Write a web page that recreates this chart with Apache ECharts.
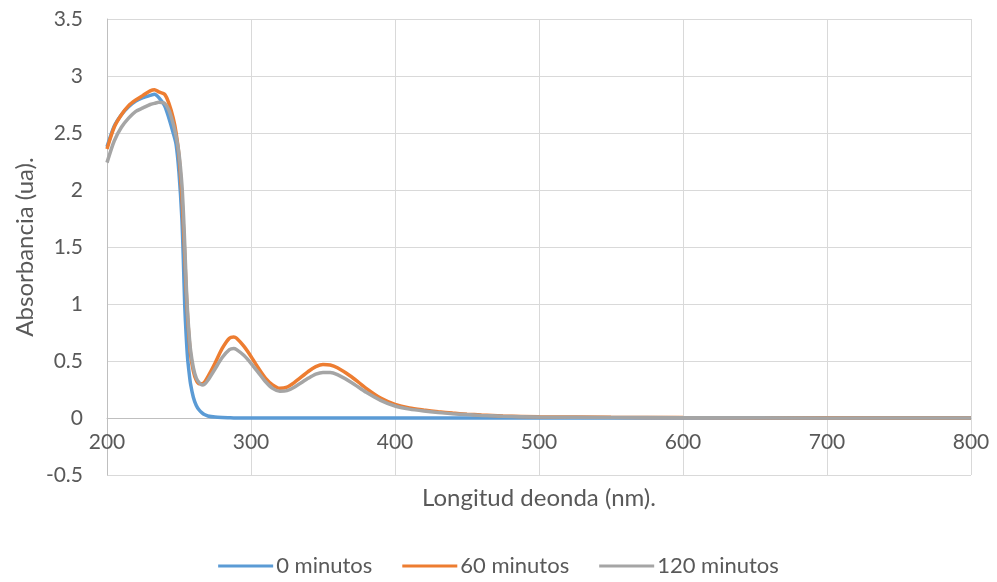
<!DOCTYPE html>
<html>
<head>
<meta charset="utf-8">
<script src="https://cdn.jsdelivr.net/npm/echarts@6/dist/echarts.min.js"></script>
<style>html,body{margin:0;padding:0;background:#fff;}#c{width:997px;height:582px;}</style>
</head>
<body>
<div id="c"></div>
<script>
const wavelengths = [200,205,210,215,220,225,230,233,236,240,243,246,248,250,252,253,254,255,256,257,258,260,262,264,266,268,270,275,280,285,288,290,295,300,305,310,315,320,325,330,340,345,350,355,360,370,380,390,400,410,420,430,440,450,460,475,500,550,600,700,800];
const min0 = [2.38,2.56,2.66,2.73,2.78,2.81,2.83,2.84,2.81,2.74,2.63,2.50,2.40,2.15,1.75,1.40,0.98,0.72,0.52,0.40,0.30,0.18,0.11,0.07,0.045,0.028,0.018,0.008,0.004,0.002,0.001,0.001,0.001,0,0,0,0,0,0,0,0,0,0,0,0,0,0,0,0,0,0,0,0,0,0,0,0,0,0,0,0];
const min60 = [2.36,2.55,2.66,2.74,2.79,2.83,2.87,2.88,2.86,2.84,2.76,2.63,2.50,2.30,1.95,1.70,1.42,1.12,0.88,0.70,0.56,0.41,0.33,0.30,0.30,0.32,0.36,0.48,0.61,0.70,0.71,0.70,0.63,0.54,0.44,0.35,0.29,0.26,0.27,0.31,0.41,0.45,0.47,0.465,0.44,0.36,0.26,0.175,0.12,0.088,0.07,0.055,0.043,0.034,0.026,0.018,0.011,0.006,0.004,0.002,0.0];
const min120 = [2.24,2.43,2.55,2.63,2.69,2.72,2.75,2.76,2.77,2.76,2.70,2.58,2.47,2.32,2.05,1.82,1.52,1.18,0.92,0.74,0.60,0.44,0.35,0.31,0.29,0.30,0.33,0.43,0.53,0.60,0.61,0.60,0.55,0.48,0.40,0.32,0.26,0.235,0.24,0.27,0.35,0.385,0.40,0.40,0.38,0.31,0.225,0.155,0.105,0.078,0.061,0.048,0.038,0.03,0.023,0.016,0.009,0.005,0.003,0.001,-0.001];
const seriesNames = ['0 minutos','60 minutos','120 minutos'];
const seriesColors = ['#5B9BD5','#ED7D31','#A5A5A5'];
const xTitle = 'Longitud deonda (nm).';
const yTitle = 'Absorbancia (ua).';

const pair = arr => wavelengths.map((w,i)=>[w,arr[i]]);
const allData = [min0,min60,min120];
const font = 'Lato, "Open Sans", sans-serif';
const chart = echarts.init(document.getElementById('c'), null, {renderer:'canvas'});
chart.setOption({
  animation:false,
  backgroundColor:'#fff',
  grid:{left:107,right:26,top:19,bottom:107,containLabel:false},
  xAxis:{type:'value',min:200,max:800,interval:100,offset:-57,
    axisLine:{show:true,onZero:false,lineStyle:{color:'#BFBFBF',width:1}},
    axisTick:{show:false},
    axisLabel:{color:'#595959',fontSize:21,fontFamily:font,margin:14},
    splitLine:{show:true,lineStyle:{color:'#D9D9D9',width:1}}},
  yAxis:{type:'value',min:-0.5,max:3.5,interval:0.5,
    axisLine:{show:true,lineStyle:{color:'#BFBFBF',width:1}},
    axisTick:{show:false},
    axisLabel:{color:'#595959',fontSize:21,fontFamily:font,margin:24},
    splitLine:{show:true,lineStyle:{color:'#D9D9D9',width:1}}},
  legend:{bottom:0,left:'center',itemWidth:55,itemHeight:3,itemGap:30,
    icon:'rect',
    textStyle:{color:'#595959',fontSize:22,fontFamily:font,padding:[0,0,0,-2]},
    data:seriesNames},
  graphic:[
    {type:'text',x:539,y:498,style:{text:xTitle,fill:'#595959',font:'24px '+font,align:'center',verticalAlign:'middle'}},
    {type:'text',rotation:Math.PI/2,x:25,y:247,style:{text:yTitle,fill:'#595959',font:'24px '+font,align:'center',verticalAlign:'middle'}}
  ],
  series: allData.map((arr,i)=>({
    name:seriesNames[i],type:'line',data:pair(arr),showSymbol:false,symbol:'none',
    smooth:0.25,
    lineStyle:{color:seriesColors[i],width:3.5},
    itemStyle:{color:seriesColors[i]},
    z:2+i
  }))
});
</script>
</body>
</html>
